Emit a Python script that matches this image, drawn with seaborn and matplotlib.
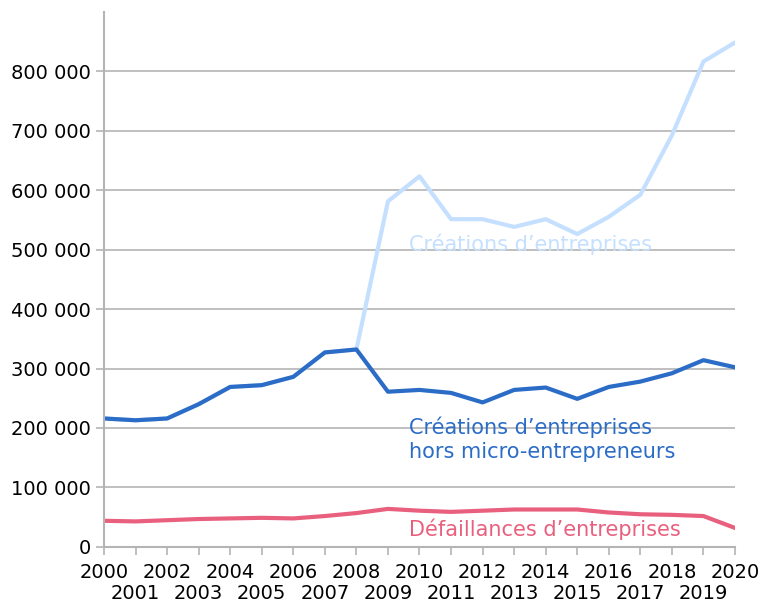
import numpy as np
import pandas as pd
import matplotlib
matplotlib.use("Agg")
import matplotlib.pyplot as plt
from matplotlib.ticker import FuncFormatter
import seaborn as sns

years = list(range(2000, 2021))
creations = [216000, 213000, 216000, 240000, 269000, 272000, 286000, 327000, 332000,
             581000, 623000, 551000, 551000, 538000, 551000, 526000, 555000, 592000,
             692000, 816000, 848000]
creations_hors_micro = [216000, 213000, 216000, 240000, 269000, 272000, 286000, 327000, 332000,
                        261000, 264000, 259000, 243000, 264000, 268000, 249000, 269000, 278000,
                        292000, 314000, 302000]
defaillances = [44000, 43000, 45000, 47000, 48000, 49000, 48000, 52000, 57000,
                64000, 61000, 59000, 61000, 63000, 63000, 63000, 58000, 55000,
                54000, 52000, 32000]

series_names = ["Créations d’entreprises",
                "Créations d’entreprises\nhors micro-entrepreneurs",
                "Défaillances d’entreprises"]
colors = ["#c5e0ff", "#2b6cc7", "#e9607f"]

df = pd.concat([
    pd.DataFrame({"annee": years, "valeur": creations, "serie": series_names[0]}),
    pd.DataFrame({"annee": years, "valeur": creations_hors_micro, "serie": series_names[1]}),
    pd.DataFrame({"annee": years, "valeur": defaillances, "serie": series_names[2]}),
])

sns.set_style("white")
plt.rcParams["font.family"] = ["DejaVu Sans"]

fig = plt.figure(figsize=(7.63, 6.05), dpi=100)
ax = fig.add_axes([0.1363, 0.0959, 0.827, 0.885])

sns.lineplot(data=df, x="annee", y="valeur", hue="serie", hue_order=series_names,
             palette=colors, linewidth=3, legend=False, ax=ax)

ax.set_xlim(2000, 2020)
ax.set_ylim(0, 900000)
ax.set_yticks(np.arange(0, 900000, 100000))
ax.yaxis.set_major_formatter(FuncFormatter(lambda v, p: f"{int(v):,}".replace(",", " ")))
ax.set_xticks(years)
ax.set_xticklabels([str(y) if y % 2 == 0 else "\n" + str(y) for y in years])
ax.grid(axis="y", color="#b4b4b4", linewidth=1.2)
ax.set_axisbelow(True)
ax.set_xlabel("")
ax.set_ylabel("")
for s in ["top", "right"]:
    ax.spines[s].set_visible(False)
for s in ["left", "bottom"]:
    ax.spines[s].set_color("#b4b4b4")
    ax.spines[s].set_linewidth(1.5)
ax.tick_params(axis="both", colors="#b4b4b4", labelcolor="black",
               length=5.5, width=1.2, direction="out", left=True, bottom=True)
ax.tick_params(axis="y", labelsize=14, pad=4)
ax.tick_params(axis="x", labelsize=14, pad=6)
for lbl in ax.get_xticklabels():
    lbl.set_linespacing(1.15)

ax.text(2009.67, 509000, series_names[0], color=colors[0], fontsize=15, va="center", ha="left")
ax.text(2009.67, 181000, series_names[1], color=colors[1], fontsize=15, va="center", ha="left",
        linespacing=1.22)
ax.text(2009.67, 29000, series_names[2], color=colors[2], fontsize=15, va="center", ha="left")

plt.savefig("out.png", dpi=100)
plt.close()
